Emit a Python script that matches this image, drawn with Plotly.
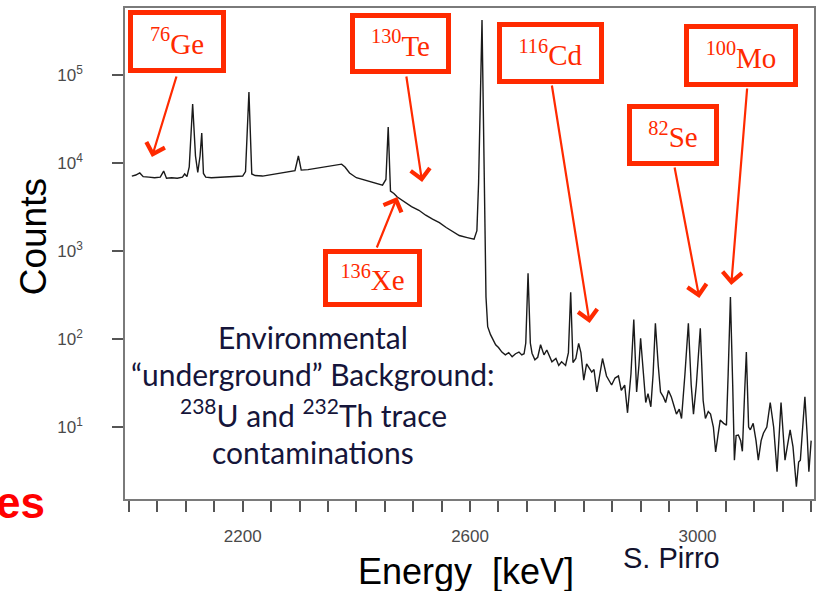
import plotly.graph_objects as go

# ---------------- data ----------------
energy_kev = [2005, 2012, 2019, 2025, 2035, 2045, 2055, 2061, 2066, 2075, 2085, 2094, 2098, 2102,
              2106, 2112, 2117, 2121, 2125, 2128, 2131, 2135, 2145, 2160, 2175, 2190, 2200, 2205,
              2211, 2216, 2222, 2235, 2250, 2265, 2280, 2292, 2298, 2303, 2315, 2330, 2345, 2360,
              2374, 2380, 2388, 2400, 2415, 2430, 2446, 2452, 2456, 2460, 2466, 2472, 2485, 2497,
              2510, 2522, 2534, 2546, 2558, 2570, 2581, 2595, 2607, 2612, 2615, 2621, 2625, 2628,
              2631, 2636, 2645, 2650, 2656, 2662, 2668, 2674, 2680, 2686, 2691, 2695, 2698, 2702,
              2706, 2709, 2714, 2719, 2724, 2730, 2735, 2740, 2744, 2751, 2756, 2761, 2768, 2773,
              2777, 2781, 2786, 2791, 2795, 2800, 2805, 2814, 2818, 2823, 2828, 2833, 2840, 2849,
              2855, 2861, 2866, 2872, 2877, 2883, 2888, 2893, 2897, 2900, 2905, 2909, 2913, 2918,
              2922, 2926, 2931, 2935, 2940, 2944, 2949, 2954, 2958, 2963, 2968, 2972, 2978, 2984,
              2989, 2993, 2998, 3005, 3010, 3014, 3019, 3023, 3028, 3032, 3036, 3040, 3046, 3051,
              3054, 3058, 3062, 3065, 3068, 3072, 3076, 3079, 3083, 3086, 3090, 3093, 3098, 3103,
              3107, 3112, 3116, 3122, 3128, 3134, 3140, 3147, 3151, 3154, 3158, 3163, 3168, 3174,
              3178, 3181, 3186, 3189, 3193, 3196, 3200]
counts = [7100, 7300, 7700, 7000, 6900, 6800, 6900, 8100, 6700, 6800, 6700, 6900, 7500, 7000,
          9000, 46800, 12000, 7800, 12000, 21900, 7600, 6900, 6800, 6900, 6900, 7000, 7100, 8000,
          64000, 7500, 7200, 7100, 7400, 7600, 8000, 8200, 12000, 8300, 8400, 8700, 8900, 9300,
          9700, 9000, 7700, 6800, 6400, 6000, 5600, 6500, 25600, 4800, 4500, 4100, 3600, 3200,
          2900, 2550, 2300, 2100, 1850, 1650, 1500, 1420, 1360, 1700, 6000, 420000, 6000, 300,
          138, 112, 86, 80, 71, 66, 70, 63, 68, 71, 66, 68, 90, 560,
          90, 69, 58, 62, 86, 66, 75, 62, 55, 60, 50, 55, 50, 70,
          340, 54, 60, 89, 70, 34, 52, 42, 45, 25, 40, 60, 38, 30,
          36, 38, 26, 30, 14.5, 40, 166, 25, 50, 102, 40, 19, 24, 17,
          40, 151, 50, 25, 22, 19, 26, 22, 18, 14, 16, 12.5, 40, 151,
          30, 14, 30, 132, 20, 12.5, 15, 14, 10, 5.2, 8, 12, 11, 10.5,
          40, 300, 30, 4.2, 8, 8.1, 7, 5.3, 25, 71, 10, 9.3, 11, 7,
          4.2, 7, 8.5, 10, 19, 10, 3.1, 19, 8, 4.2, 6, 9.3, 6, 2.1,
          4, 4.2, 12, 22, 8, 3.1, 7]

x_tick_values = list(range(2000, 3201, 50))
x_tick_labels = ["2200", "2600", "3000"]
y_tick_values = [10, 100, 1000, 10000, 100000]
y_tick_labels = ["10<sup>1</sup>", "10<sup>2</sup>", "10<sup>3</sup>", "10<sup>4</sup>", "10<sup>5</sup>"]

isotope_labels = ["<sup>76</sup>Ge", "<sup>130</sup>Te", "<sup>136</sup>Xe",
                  "<sup>116</sup>Cd", "<sup>82</sup>Se", "<sup>100</sup>Mo"]
background_lines = ["Environmental", "\u201cunderground\u201d Background:",
                    "<sup>238</sup>U and <sup>232</sup>Th trace", "contaminations"]

# ---------------- layout geometry (pixels) ----------------
W, H = 819, 591
L, R, T, B = 125, 816, 8, 499   # plot area


def px(xp):
    return (xp - L) / (R - L)


def py(yp):
    return (B - yp) / (B - T)


# box geometry: left, top, right, bottom (outer)
boxes = [(128, 10, 226, 73), (351, 13, 452, 74), (324, 249, 423, 307),
         (498, 22, 605, 84), (629, 104, 721, 166), (686, 24, 800, 87)]
# arrows: tail (x, y) -> head (x, y)
arrows = [((177, 75), (152, 157)), ((407, 75), (423, 182)), ((377, 249), (398, 197)),
          ((553, 84), (591, 323)), ((676, 166), (701, 298)), ((749, 87), (733, 285))]

fig = go.Figure()
fig.add_trace(go.Scatter(x=energy_kev, y=counts, mode="lines",
                         line=dict(color="#1a1a1a", width=1.4), hoverinfo="skip",
                         showlegend=False))

x_text = [str(v) if str(v) in x_tick_labels else "" for v in x_tick_values]

axis_gray = "#7a7a7a"
fig.update_xaxes(range=[1993, 3205], tickvals=x_tick_values, ticktext=x_text,
                 ticks="outside", ticklen=11, tickwidth=1.5, tickcolor="#555",
                 showline=True, linecolor=axis_gray, linewidth=1.5, mirror=True,
                 showgrid=False, zeroline=False, ticklabelstandoff=10,
                 tickfont=dict(family="Liberation Sans", size=17, color="#4a4a4a"))
fig.update_yaxes(type="log", range=[0.182, 5.761], tickvals=y_tick_values, ticktext=y_tick_labels,
                 ticks="outside", ticklen=11, tickwidth=1.5, tickcolor="#555",
                 showline=True, linecolor=axis_gray, linewidth=1.5, mirror=True,
                 showgrid=False, zeroline=False, ticklabelstandoff=26,
                 tickfont=dict(family="Liberation Sans", size=17, color="#4a4a4a"))

red = "#ff2a00"
anns = []
for (x0, y0, x1, y1), lbl in zip(boxes, isotope_labels):
    bw = 5
    anns.append(dict(xref="paper", yref="paper", x=px((x0 + x1) / 2), y=py((y0 + y1) / 2),
                     xanchor="center", yanchor="middle", text=lbl, showarrow=False,
                     width=(x1 - x0) - 2 * bw, height=(y1 - y0) - 2 * bw,
                     bordercolor=red, borderwidth=bw, borderpad=0, bgcolor="white",
                     font=dict(family="Liberation Serif", size=29, color=red)))
for (tx, ty), (hx, hy) in arrows:
    anns.append(dict(xref="paper", yref="paper", x=px(hx), y=py(hy), ax=tx - hx, ay=ty - hy,
                     text="", showarrow=True, arrowhead=4, arrowsize=1.7, arrowwidth=2.2,
                     arrowcolor=red, standoff=0, startstandoff=0))

line_y = [337, 374, 413, 452]
for txt, yy in zip(background_lines, line_y):
    anns.append(dict(xref="paper", yref="paper", x=px(314), y=py(yy), xanchor="center",
                     yanchor="middle", text=txt, showarrow=False,
                     font=dict(family="Lato", size=30, color="#15153a")))

anns.append(dict(xref="paper", yref="paper", x=px(34), y=py(237), text="Counts", textangle=-90,
                 xanchor="center", yanchor="middle", showarrow=False,
                 font=dict(family="Liberation Sans", size=37, color="#000")))
anns.append(dict(xref="paper", yref="paper", x=px(467), y=py(571), text="Energy  [keV]",
                 xanchor="center", yanchor="middle", showarrow=False,
                 font=dict(family="Liberation Sans", size=36, color="#000")))
anns.append(dict(xref="paper", yref="paper", x=px(673), y=py(558), text="S. Pirro",
                 xanchor="center", yanchor="middle", showarrow=False,
                 font=dict(family="Liberation Sans", size=29, color="#12122e")))
anns.append(dict(xref="paper", yref="paper", x=px(47), y=py(503), text="<b>es</b>",
                 xanchor="right", yanchor="middle", showarrow=False,
                 font=dict(family="Liberation Sans", size=44, color="#ff0000")))

fig.update_layout(width=W, height=H, margin=dict(l=L, r=W - R, t=T, b=H - B),
                  paper_bgcolor="white", plot_bgcolor="white", annotations=anns,
                  showlegend=False)

fig.write_html("out.html", config={"displayModeBar": False},
               post_script="document.body.style.margin='0';document.body.style.padding='0';"
                           "document.body.style.overflow='hidden';")
